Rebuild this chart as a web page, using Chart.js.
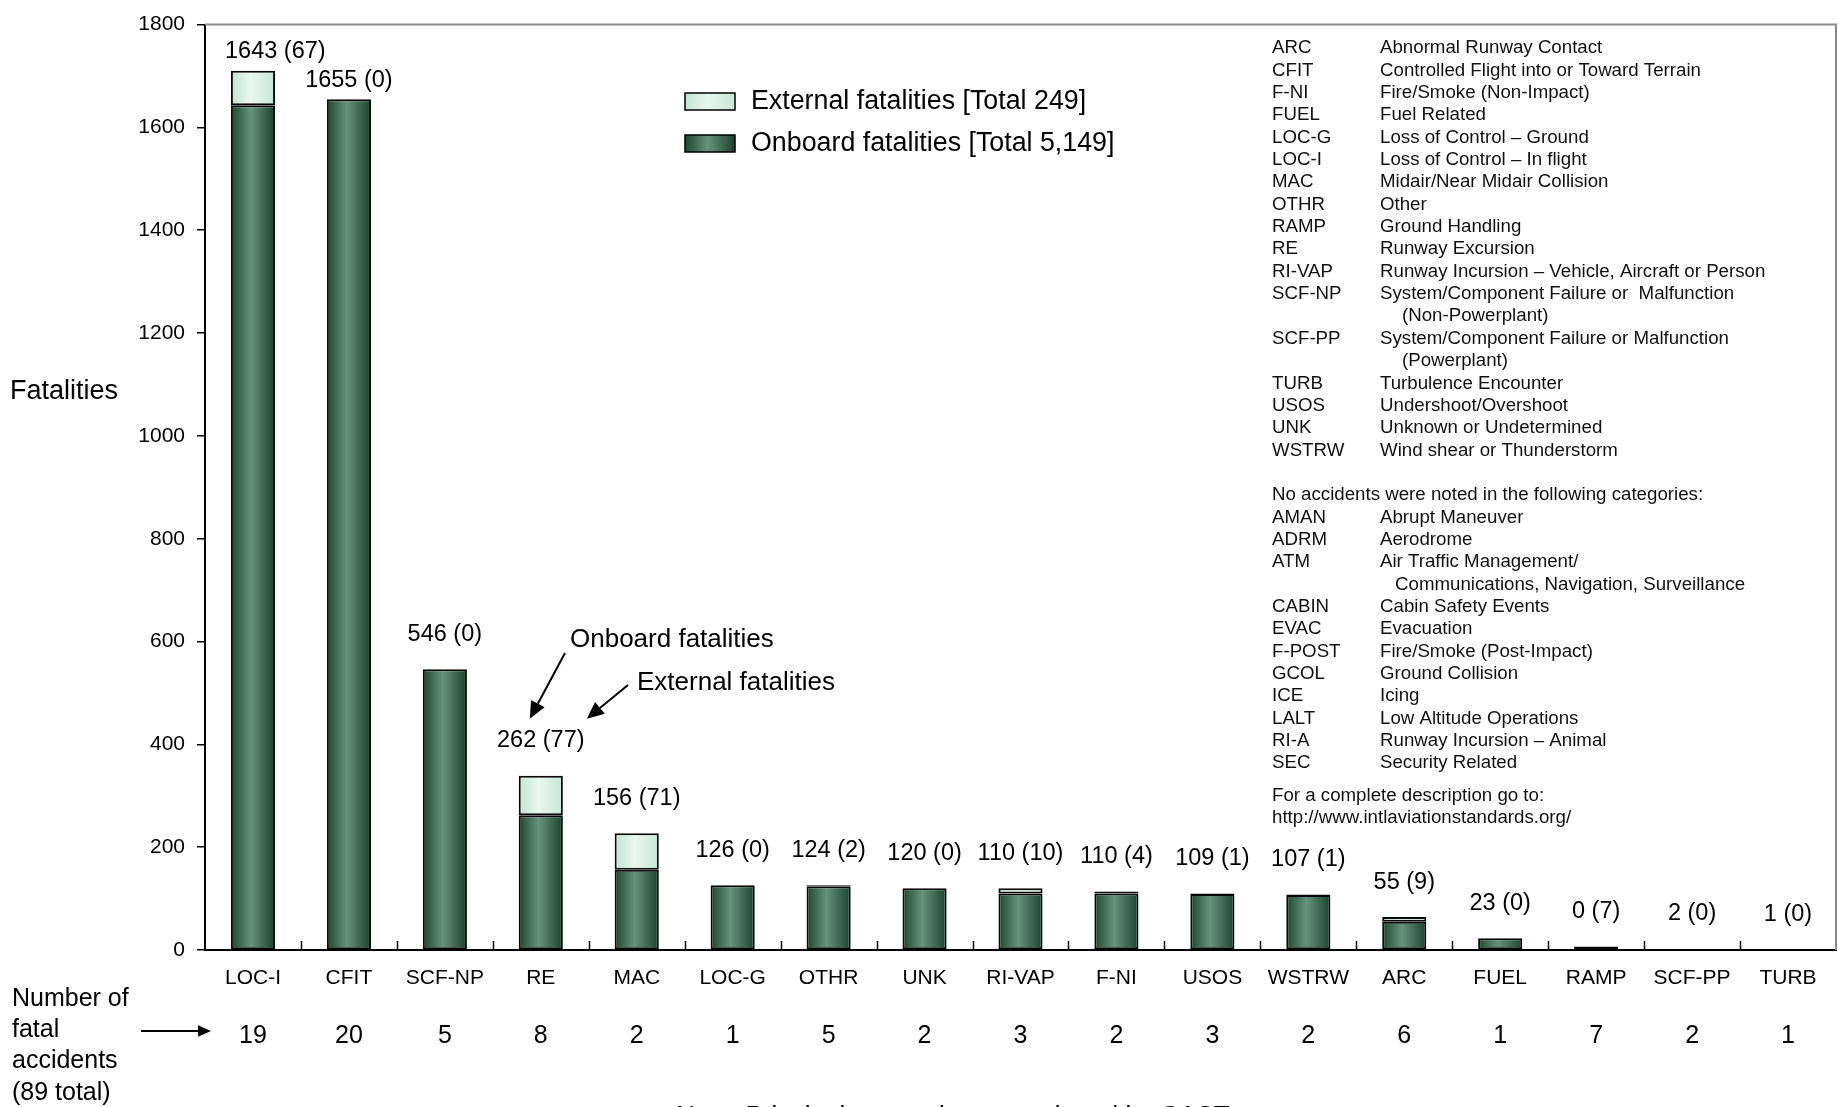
<!DOCTYPE html>
<html>
<head>
<meta charset="utf-8">
<script src="https://cdn.jsdelivr.net/npm/chart.js@4/dist/chart.umd.min.js"></script>
<style>
  html, body { margin: 0; padding: 0; background: #fff; }
  #wrap { width: 1838px; height: 1107px; position: relative; }
</style>
</head>
<body>
<div id="wrap"><canvas id="chart" width="1838" height="1107"></canvas></div>
<script>
// Fatalities by CAST/ICAO principal category
const categories = ['LOC-I','CFIT','SCF-NP','RE','MAC','LOC-G','OTHR','UNK','RI-VAP','F-NI','USOS','WSTRW','ARC','FUEL','RAMP','SCF-PP','TURB'];
const onboardFatalities  = [1643,1655,546,262,156,126,124,120,110,110,109,107,55,23,0,2,1];
const externalFatalities = [67,0,0,77,71,0,2,0,10,4,1,1,9,0,7,0,0];
const fatalAccidents     = [19,20,5,8,2,1,5,2,3,2,3,2,6,1,7,2,1];
const yTickValues = [0,200,400,600,800,1000,1200,1400,1600,1800];

// Category glossary: [code, description, continuation line?]
const glossaryMain = [
  ['ARC','Abnormal Runway Contact'],
  ['CFIT','Controlled Flight into or Toward Terrain'],
  ['F-NI','Fire/Smoke (Non-Impact)'],
  ['FUEL','Fuel Related'],
  ['LOC-G','Loss of Control \u2013 Ground'],
  ['LOC-I','Loss of Control \u2013 In flight'],
  ['MAC','Midair/Near Midair Collision'],
  ['OTHR','Other'],
  ['RAMP','Ground Handling'],
  ['RE','Runway Excursion'],
  ['RI-VAP','Runway Incursion \u2013 Vehicle, Aircraft or Person'],
  ['SCF-NP','System/Component Failure or  Malfunction'],
  ['','(Non-Powerplant)', true],
  ['SCF-PP','System/Component Failure or Malfunction'],
  ['','(Powerplant)', true],
  ['TURB','Turbulence Encounter'],
  ['USOS','Undershoot/Overshoot'],
  ['UNK','Unknown or Undetermined'],
  ['WSTRW','Wind shear or Thunderstorm']
];
const glossaryUnusedTitle = 'No accidents were noted in the following categories:';
const glossaryUnused = [
  ['AMAN','Abrupt Maneuver'],
  ['ADRM','Aerodrome'],
  ['ATM','Air Traffic Management/'],
  ['','Communications, Navigation, Surveillance', true],
  ['CABIN','Cabin Safety Events'],
  ['EVAC','Evacuation'],
  ['F-POST','Fire/Smoke (Post-Impact)'],
  ['GCOL','Ground Collision'],
  ['ICE','Icing'],
  ['LALT','Low Altitude Operations'],
  ['RI-A','Runway Incursion \u2013 Animal'],
  ['SEC','Security Related']
];
const glossaryFooter = ['For a complete description go to:', 'http://www.intlaviationstandards.org/'];
const noteText = 'Note: Principal categories as assigned by CAST.';

const FONT = '"Liberation Sans", Arial, Helvetica, sans-serif';
const BAR_PCT = 0.46;
const ONBOARD_STOPS  = ['#1b472f', '#67927c', '#1a432d'];
const EXTERNAL_STOPS = ['#c3e4d3', '#e9f7f0', '#c6e6d6'];

const sum = a => a.reduce((s, v) => s + v, 0);
const fmt = n => n.toLocaleString('en-US');

// Horizontal shading across each bar
function shaded(stops) {
  return (c) => {
    const xs = c.chart.scales.x;
    if (!xs || c.dataIndex === undefined || !isFinite(xs.width)) return stops[1];
    const cx = xs.getPixelForValue(c.dataIndex);
    const w = (xs.width / categories.length) * BAR_PCT;
    const g = c.chart.ctx.createLinearGradient(cx - w / 2, 0, cx + w / 2, 0);
    g.addColorStop(0, stops[0]);
    g.addColorStop(0.45, stops[1]);
    g.addColorStop(1, stops[2]);
    return g;
  };
}

function arrow(ctx, x1, y1, x2, y2, head) {
  const a = Math.atan2(y2 - y1, x2 - x1);
  const bx = x2 - head * Math.cos(a), by = y2 - head * Math.sin(a);
  ctx.beginPath();
  ctx.moveTo(x1, y1);
  ctx.lineTo(bx, by);
  ctx.stroke();
  ctx.beginPath();
  ctx.moveTo(x2, y2);
  ctx.lineTo(bx + head * 0.45 * Math.sin(a), by - head * 0.45 * Math.cos(a));
  ctx.lineTo(bx - head * 0.45 * Math.sin(a), by + head * 0.45 * Math.cos(a));
  ctx.closePath();
  ctx.fill();
}

const decorations = {
  id: 'decorations',
  afterDraw(chart) {
    const { ctx, chartArea: ca, scales: { x: xs, y: ys } } = chart;
    ctx.save();

    // grey frame on top and right
    ctx.strokeStyle = '#8a8a8a';
    ctx.lineWidth = 2;
    ctx.beginPath();
    ctx.moveTo(ca.left, ca.top);
    ctx.lineTo(ca.right, ca.top);
    ctx.lineTo(ca.right, ca.bottom);
    ctx.stroke();

    // category separators rising from the x axis
    ctx.strokeStyle = '#000';
    ctx.lineWidth = 1.5;
    const step = xs.width / categories.length;
    for (let i = 1; i < categories.length; i++) {
      const px = Math.round(xs.left + i * step) + 0.5;
      ctx.beginPath();
      ctx.moveTo(px, ca.bottom);
      ctx.lineTo(px, ca.bottom - 9);
      ctx.stroke();
    }

    // value labels: onboard (external), kept clear of the y axis
    ctx.fillStyle = '#000';
    ctx.font = '23.5px ' + FONT;
    ctx.textAlign = 'center';
    ctx.textBaseline = 'middle';
    categories.forEach((c, i) => {
      const txt = onboardFatalities[i] + ' (' + externalFatalities[i] + ')';
      const top = ys.getPixelForValue(onboardFatalities[i] + externalFatalities[i]);
      const gap = top < 150 ? 19 : 35;
      const half = ctx.measureText(txt).width / 2;
      const cx = Math.max(xs.getPixelForValue(i), ca.left + 20 + half);
      ctx.fillText(txt, cx, top - gap);
    });

    // accident counts row
    ctx.font = '25px ' + FONT;
    categories.forEach((c, i) => {
      ctx.fillText(String(fatalAccidents[i]), xs.getPixelForValue(i), 1036);
    });

    // left-hand titles
    ctx.textAlign = 'left';
    ctx.font = '27px ' + FONT;
    ctx.fillText('Fatalities', 10, 392);
    ctx.font = '25px ' + FONT;
    ['Number of', 'fatal', 'accidents', '(' + sum(fatalAccidents) + ' total)'].forEach((t, k) => {
      ctx.fillText(t, 12, 999 + k * 31.3);
    });
    ctx.lineWidth = 2;
    arrow(ctx, 141, 1031, 211, 1031, 13);

    // legend
    const legendRows = [
      ['External fatalities [Total ' + fmt(sum(externalFatalities)) + ']', EXTERNAL_STOPS, 101],
      ['Onboard fatalities [Total ' + fmt(sum(onboardFatalities)) + ']', ONBOARD_STOPS, 143]
    ];
    legendRows.forEach(([label, stops, cy]) => {
      const g = ctx.createLinearGradient(685, 0, 735, 0);
      g.addColorStop(0, stops[0]); g.addColorStop(0.45, stops[1]); g.addColorStop(1, stops[2]);
      ctx.fillStyle = g;
      ctx.fillRect(685, cy - 8, 50, 17);
      ctx.strokeStyle = '#000';
      ctx.lineWidth = 1.5;
      ctx.strokeRect(685, cy - 8, 50, 17);
      ctx.fillStyle = '#000';
      ctx.font = '26.8px ' + FONT;
      ctx.fillText(label, 751, cy + 1);
    });

    // call-outs on the RE label
    const reIdx = categories.indexOf('RE');
    const lx = xs.getPixelForValue(reIdx);
    const ly = ys.getPixelForValue(onboardFatalities[reIdx] + externalFatalities[reIdx]) - 35;
    ctx.font = '26px ' + FONT;
    ctx.fillText('Onboard fatalities', 570, 640);
    ctx.fillText('External fatalities', 637, 683);
    ctx.lineWidth = 2;
    arrow(ctx, 565, 653, lx - 11, ly - 22, 17);
    arrow(ctx, 628, 685, lx + 46, ly - 22, 17);

    // glossary
    ctx.font = '18.7px ' + FONT;
    ctx.fillStyle = '#111';
    const lh = 22.36;
    glossaryMain.forEach(([code, desc, cont], k) => {
      const y = 48 + k * lh;
      if (code) ctx.fillText(code, 1272, y);
      ctx.fillText(desc, cont ? 1402 : 1380, y);
    });
    ctx.fillText(glossaryUnusedTitle, 1272, 495);
    glossaryUnused.forEach(([code, desc, cont], k) => {
      const y = 495 + (k + 1) * lh;
      if (code) ctx.fillText(code, 1272, y);
      ctx.fillText(desc, cont ? 1395 : 1380, y);
    });
    ctx.fillText(glossaryFooter[0], 1272, 796);
    ctx.fillText(glossaryFooter[1], 1272, 818);

    // footnote (runs off the lower edge)
    ctx.font = '26px ' + FONT;
    ctx.textAlign = 'center';
    ctx.textBaseline = 'top';
    ctx.fillStyle = '#000';
    ctx.fillText(noteText, 955, 1104);

    ctx.restore();
  }
};

new Chart(document.getElementById('chart'), {
  type: 'bar',
  data: {
    labels: categories,
    datasets: [
      {
        label: 'Onboard fatalities',
        data: onboardFatalities,
        backgroundColor: shaded(ONBOARD_STOPS),
        borderColor: '#0a0a0a',
        borderWidth: 2,
        borderSkipped: false
      },
      {
        label: 'External fatalities',
        data: externalFatalities,
        backgroundColor: shaded(EXTERNAL_STOPS),
        borderColor: '#0a0a0a',
        borderWidth: 2,
        borderSkipped: false
      }
    ]
  },
  options: {
    responsive: false,
    animation: false,
    devicePixelRatio: 1,
    layout: { padding: { top: 20, right: 2, left: 0, bottom: 0 } },
    datasets: { bar: { barPercentage: BAR_PCT, categoryPercentage: 1 } },
    plugins: { legend: { display: false }, tooltip: { enabled: false } },
    scales: {
      x: {
        stacked: true,
        offset: true,
        grid: { display: true, drawOnChartArea: false, drawTicks: false, color: 'rgba(0,0,0,0)' },
        border: { display: true, color: '#000', width: 2 },
        ticks: { color: '#000', font: { family: FONT, size: 21 }, padding: 16, maxRotation: 0, autoSkip: false },
        afterFit: s => { s.height = 157; }
      },
      y: {
        stacked: true,
        min: 0,
        max: 1800,
        afterBuildTicks: s => { s.ticks = yTickValues.map(v => ({ value: v })); },
        grid: { drawOnChartArea: false, drawTicks: true, tickLength: 8, color: '#000', lineWidth: 1.5 },
        border: { display: true, color: '#000', width: 2 },
        ticks: { color: '#000', font: { family: FONT, size: 21 }, padding: 12, callback: v => String(v) },
        afterFit: s => { s.width = 205; }
      }
    }
  },
  plugins: [decorations]
});
</script>
</body>
</html>
